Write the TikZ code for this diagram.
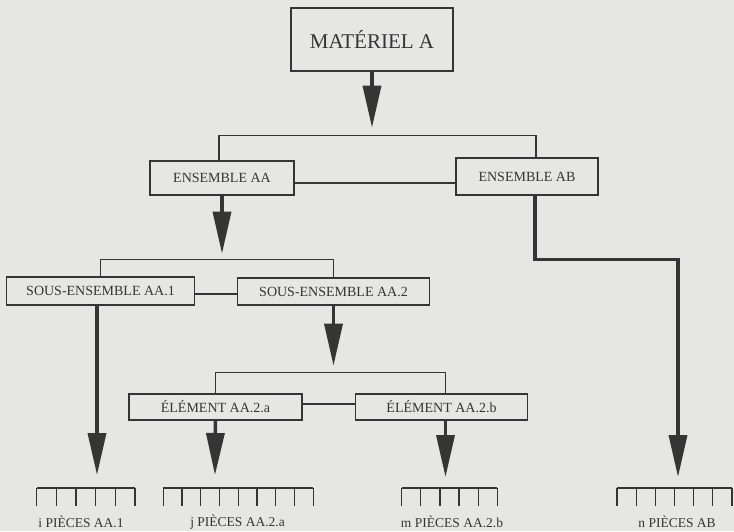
\documentclass[tikz,border=0pt]{standalone}
\usepackage{fontspec}
\setmainfont{Liberation Serif}
\usepackage{tikz}
\usetikzlibrary{arrows.meta,positioning,calc}
\definecolor{fond}{HTML}{E6E6E4}
\definecolor{encre}{HTML}{353535}

\begin{document}
\begin{tikzpicture}[x=1pt,y=-1pt,
  boite/.style={draw=encre,line width=1.3pt,fill=fond,rectangle,inner sep=0pt,
    text=encre,font=\fontsize{14}{16}\selectfont},
  fin/.style={draw=encre,line width=1.2pt},
  fleche/.style={draw=encre,line width=3.5pt,-{Triangle[length=42pt,width=18pt]}},
  lab/.style={inner sep=0pt,text=encre,font=\fontsize{13.5}{15}\selectfont}]
  \fill[fond] (0,0) rectangle (734,531);
  % boites
  \node[boite,minimum width=162pt,minimum height=63pt,font=\fontsize{21}{24}\selectfont] (mat) at (372,39.5) {MATÉRIEL A};
  \node[boite,minimum width=144pt,minimum height=34pt] (aa) at (222,178) {ENSEMBLE AA};
  \node[boite,minimum width=142pt,minimum height=37pt] (ab) at (527,176.5) {ENSEMBLE AB};
  \node[boite,minimum width=188pt,minimum height=28pt] (aa1) at (100.5,291) {SOUS-ENSEMBLE AA.1};
  \node[boite,minimum width=192pt,minimum height=27pt] (aa2) at (333.5,291.5) {SOUS-ENSEMBLE AA.2};
  \node[boite,minimum width=173pt,minimum height=26pt] (ea) at (215.5,407) {ÉLÉMENT AA.2.a};
  \node[boite,minimum width=172pt,minimum height=26pt] (eb) at (441.5,407) {ÉLÉMENT AA.2.b};
  % liaisons
  \draw[fin] ($(aa.north)+(-3,0)$) -- ++(0,-25) -| ($(ab.north)+(9,0)$);
  \draw[fin] ($(aa.east)+(0,5)$) -- ($(ab.west|-aa.east)+(0,5)$);
  \draw[fin] (aa1.north) -- ++(0,-17) -| (aa2.north);
  \draw[fin] ($(aa1.east)+(0,3)$) -- ($(aa2.west|-aa1.east)+(0,3)$);
  \draw[fin] (ea.north) -- ++(0,-21) -| ($(eb.north)+(4,0)$);
  \draw[fin] ($(ea.east)+(0,-3)$) -- ($(eb.west|-ea.east)+(0,-3)$);
  % pieces
  \foreach \xa/\xb/\n in {36.7/135/5, 163.3/313.3/8, 401.7/497.3/5, 617/732/6}{
    \draw[fin] (\xa,488) -- (\xb,488);
    \foreach \k in {0,...,\n} \draw[fin] ({\xa+(\xb-\xa)*\k/\n},488) -- ++(0,18);
  }
  \node[lab] (l1) at (81,522) {i PIÈCES AA.1};
  \node[lab] (l2) at (237.5,522) {j PIÈCES AA.2.a};
  \node[lab] (l3) at (452,522) {m PIÈCES AA.2.b};
  \node[lab] (l4) at (677,522) {n PIÈCES AB};
  \coordinate (p1) at (97,475);
  \coordinate (p2) at (215,475);
  \coordinate (p3) at (445.5,477);
  \coordinate (p4) at (678,477);
  % fleches
  \draw[fleche] (mat.south) -- ++(0,56);
  \draw[fleche] (aa.south) -- ++(0,58);
  \draw[fleche] (aa2.south) -- ++(0,60);
  \draw[fleche] ($(aa1.south)+(-3.5,0)$) -- (p1);
  \draw[fleche] (ea.south) -- (p2);
  \draw[fleche] ($(eb.south)+(4,0)$) -- (p3);
  \draw[fleche] ($(ab.south)+(8,0)$) -- ++(0,64) -| (p4);
\end{tikzpicture}
\end{document}
